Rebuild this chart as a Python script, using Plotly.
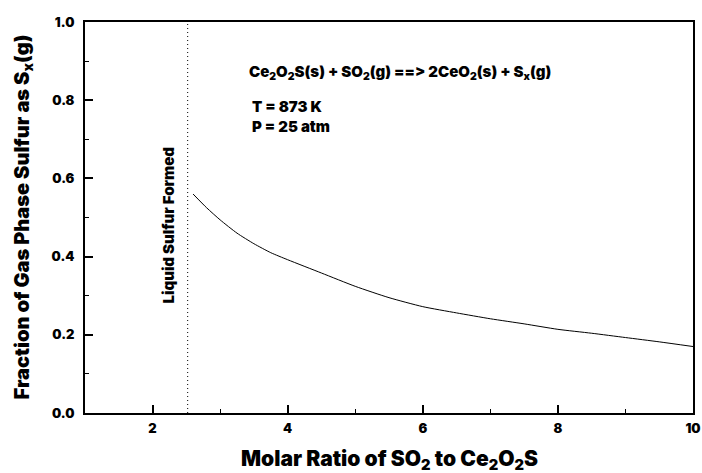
import plotly.graph_objects as go

# Data
molar_ratio = [2.6, 2.8, 3.0, 3.25, 3.5, 3.75, 4.0, 4.5, 5.0, 5.5, 6.0, 6.5, 7.0, 7.5, 8.0, 8.5, 9.0, 9.5, 10.0]
gas_fraction = [0.56, 0.525, 0.494, 0.460, 0.433, 0.410, 0.392, 0.358, 0.324, 0.295, 0.272, 0.256, 0.241, 0.228, 0.214, 0.204, 0.193, 0.182, 0.170]
liquid_limit_x = [2.52, 2.52]
liquid_limit_y = [0.0, 1.0]

x_ticks = [2, 4, 6, 8, 10]
y_ticks = [0.0, 0.2, 0.4, 0.6, 0.8, 1.0]
y_tick_labels = ["0.0", "0.2", "0.4", "0.6", "0.8", "1.0"]

FONT = "Inter, Liberation Sans, Arial, sans-serif"
def f(size):
    return dict(family=FONT, size=size, color="black", weight=900)

ZW = "&#8204;"  # breaks the "=>" ligature

fig = go.Figure()
fig.add_trace(go.Scatter(x=molar_ratio, y=gas_fraction, mode="lines",
                         line=dict(color="black", width=1, shape="spline", smoothing=0.6), showlegend=False))
fig.add_trace(go.Scatter(x=liquid_limit_x, y=liquid_limit_y, mode="lines",
                         line=dict(color="black", width=1, dash="1px,3px"), showlegend=False))

fig.add_annotation(x=0.266, y=0.872, xref="paper", yref="paper", xanchor="left", yanchor="middle",
                   text=f"Ce<sub>2</sub>O<sub>2</sub>S(s) + SO<sub>2</sub>(g) ={ZW}={ZW}> 2CeO<sub>2</sub>(s) + S<sub>x</sub>(g)",
                   showarrow=False, font=f(15))
fig.add_annotation(x=0.272, y=0.785, xref="paper", yref="paper", xanchor="left", yanchor="middle",
                   text="T = 873 K", showarrow=False, font=f(15))
fig.add_annotation(x=0.272, y=0.734, xref="paper", yref="paper", xanchor="left", yanchor="middle",
                   text="P = 25 atm", showarrow=False, font=f(15))
fig.add_annotation(x=2.23, y=0.48, xref="x", yref="y", textangle=-90,
                   text="Liquid Sulfur Formed", showarrow=False, font=f(15))

# axis titles as annotations
fig.add_annotation(x=0.5, y=0, xref="paper", yref="paper", yshift=-47, yanchor="middle",
                   text="Molar Ratio of SO<sub>2</sub> to Ce<sub>2</sub>O<sub>2</sub>S",
                   showarrow=False, font=f(21))
fig.add_annotation(x=0, y=0.50, xref="paper", yref="paper", xshift=-63, xanchor="center",
                   textangle=-90, text="Fraction of Gas Phase Sulfur as S<sub>x</sub>(g)",
                   showarrow=False, font=f(20))

fig.update_layout(
    width=702, height=473,
    margin=dict(l=85, r=9, t=22, b=60),
    paper_bgcolor="white", plot_bgcolor="white",
    font=dict(family=FONT, color="black"),
    xaxis=dict(range=[1, 10], tickvals=x_ticks, ticktext=[str(v) for v in x_ticks],
               ticks="inside", ticklen=8, tickwidth=1.5, tickcolor="black",
               minor=dict(dtick=1, tick0=1, ticks="inside", ticklen=4, tickwidth=1, tickcolor="black"),
               showline=True, linecolor="black", linewidth=2, mirror=True, automargin=False,
               showgrid=False, zeroline=False, tickfont=f(13), ticklabelstandoff=2),
    yaxis=dict(range=[0, 1], tickvals=y_ticks, ticktext=y_tick_labels,
               ticks="inside", ticklen=8, tickwidth=1.5, tickcolor="black",
               minor=dict(dtick=0.1, tick0=0, ticks="inside", ticklen=4, tickwidth=1, tickcolor="black"),
               showline=True, linecolor="black", linewidth=2, mirror=True, automargin=False,
               showgrid=False, zeroline=False, tickfont=f(13), ticklabelstandoff=6),
)

fig.write_html("out.html", config={"displayModeBar": False},
               post_script="document.body.style.margin='0';document.body.style.padding='0';document.body.style.overflow='hidden';")
